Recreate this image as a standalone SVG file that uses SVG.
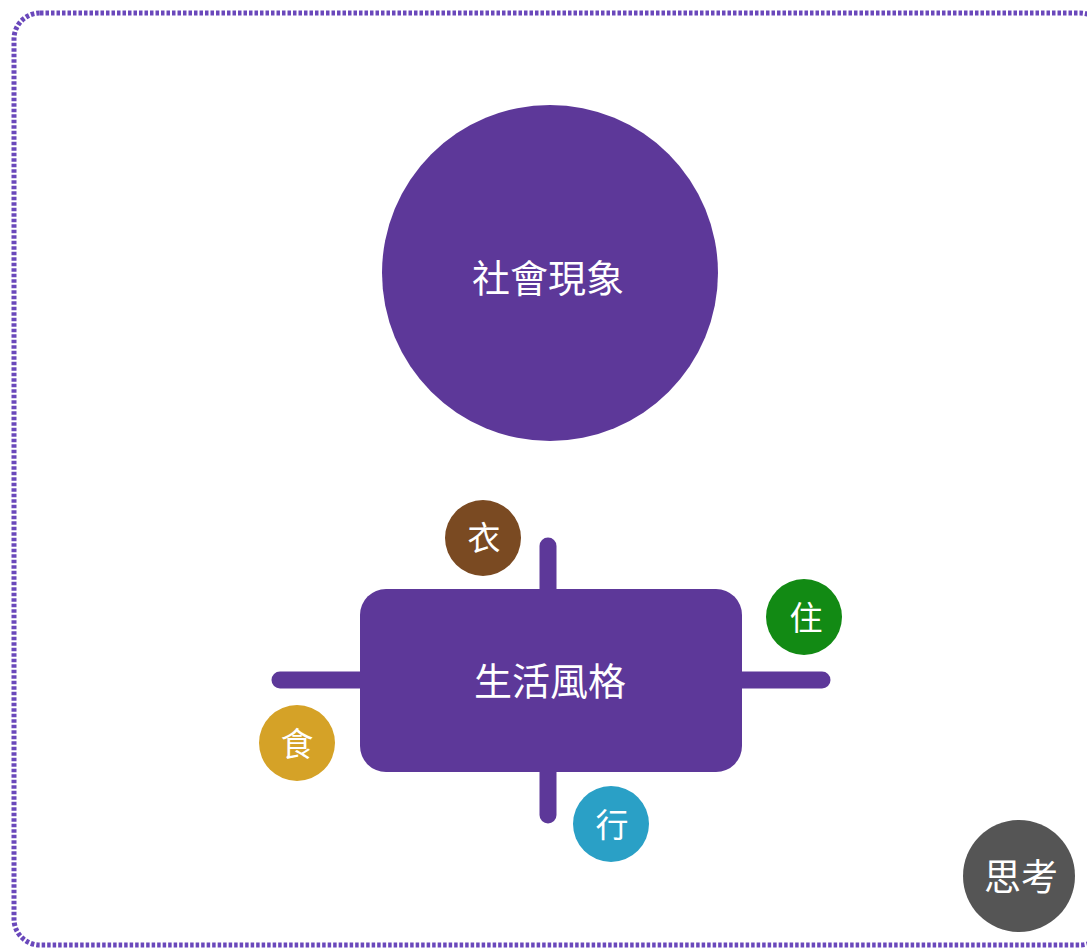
<svg xmlns="http://www.w3.org/2000/svg" width="1087" height="951" viewBox="0 0 1087 951">
<style>
.lbl{font-family:"Noto Sans CJK TC","Noto Sans CJK SC",sans-serif;font-weight:400;fill:#fff;text-anchor:middle;dominant-baseline:central}
.bar{stroke:#5d3899;stroke-width:17;stroke-linecap:round;fill:none}
</style>
<rect width="1087" height="951" fill="#fff"/>
<rect x="14" y="13" width="1092" height="932" rx="26" fill="none" stroke="#6a48bb" stroke-width="5" stroke-dasharray="3.5 2"/>
<g id="connectors">
<line class="bar" x1="548" y1="546" x2="548" y2="595"/>
<line class="bar" x1="548" y1="765" x2="548" y2="815"/>
<line class="bar" x1="280" y1="680" x2="366" y2="680"/>
<line class="bar" x1="736" y1="680" x2="822" y2="680"/>
</g>
<g id="social">
<circle cx="550" cy="273" r="168" fill="#5d3899"/>
<text class="lbl" x="548" y="275" font-size="38">社會現象</text>
</g>
<g id="lifestyle">
<rect x="360" y="589" width="382" height="183" rx="26" fill="#5d3899"/>
<text class="lbl" x="550" y="678" font-size="38">生活風格</text>
</g>
<g id="yi">
<circle cx="483" cy="538" r="38" fill="#7a4a22"/>
<text class="lbl" x="484" y="536" font-size="33">衣</text>
</g>
<g id="zhu">
<circle cx="804" cy="617" r="38" fill="#128a14"/>
<text class="lbl" x="806" y="616" font-size="33">住</text>
</g>
<g id="shi">
<circle cx="297" cy="743" r="38" fill="#d5a227"/>
<text class="lbl" x="297" y="742" font-size="33">食</text>
</g>
<g id="xing">
<circle cx="611" cy="824" r="38" fill="#2aa0c6"/>
<text class="lbl" x="612" y="823" font-size="33">行</text>
</g>
<g id="think">
<circle cx="1019" cy="876" r="56" fill="#555555"/>
<text class="lbl" x="1021" y="875" font-size="37">思考</text>
</g>
</svg>
